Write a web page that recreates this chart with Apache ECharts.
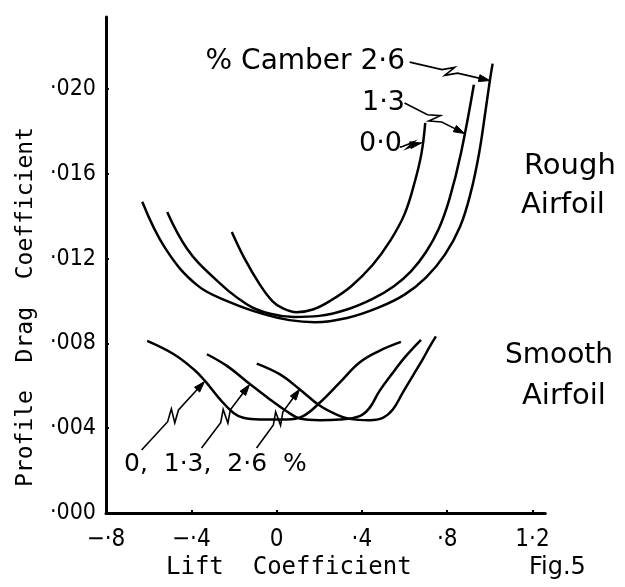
<!DOCTYPE html>
<html>
<head>
<meta charset="utf-8">
<script src="https://cdn.jsdelivr.net/npm/echarts@6/dist/echarts.min.js"></script>
<style>
html,body{margin:0;padding:0;background:#fff;}
#chart{width:625px;height:587px;}
</style>
</head>
<body>
<div id="chart"></div>
<script>
// ---- tick labels ----
const xTickValues = [-0.8, -0.4, 0, 0.4, 0.8, 1.2];
const xTickLabels = ['−·8', '−·4', '0', '·4', '·8', '1·2'];
const yTickValues = [0, 0.004, 0.008, 0.012, 0.016, 0.020];
const yTickLabels = ['·000', '·004', '·008', '·012', '·016', '·020'];

// ---- Rough airfoil: [lift coefficient, profile drag coefficient] ----
const roughCamber00 = [[-0.21,0.01326],[-0.15,0.0120],[-0.08,0.0108],[-0.02,0.0100],[0.03,0.00965],[0.093,0.00947],[0.17,0.0096],[0.25,0.0100],[0.35,0.0107],[0.45,0.0117],[0.53,0.0128],[0.6,0.0141],[0.65,0.0157],[0.68,0.0170],[0.697,0.0184]];
const roughCamber13 = [[-0.513,0.0142],[-0.42,0.01247],[-0.3,0.01115],[-0.14,0.00985],[-0.03,0.0094],[0.08,0.00925],[0.2,0.0093],[0.33,0.0096],[0.45,0.0101],[0.55,0.0107],[0.63,0.0114],[0.70,0.0123],[0.76,0.0134],[0.81,0.0148],[0.865,0.0170],[0.925,0.0202]];
const roughCamber26 = [[-0.63,0.01468],[-0.521,0.01247],[-0.373,0.01075],[-0.22,0.00995],[-0.061,0.00938],[0.06,0.0091],[0.18,0.0090],[0.33,0.0092],[0.48,0.0097],[0.6,0.0103],[0.7,0.0111],[0.79,0.0122],[0.86,0.0135],[0.91,0.0151],[0.95,0.0170],[0.98,0.0190],[1.0,0.0204],[1.013,0.0212]];

// ---- Smooth airfoil ----
const smoothCamber00 = [[-0.607,0.00812],[-0.482,0.00749],[-0.389,0.00678],[-0.335,0.00622],[-0.265,0.00536],[-0.202,0.00472],[-0.156,0.00449],[-0.078,0.00441],[0.047,0.00441],[0.124,0.00457],[0.202,0.0052],[0.296,0.00615],[0.389,0.0071],[0.482,0.00765],[0.583,0.00807]];
const smoothCamber13 = [[-0.327,0.00749],[-0.233,0.00694],[-0.124,0.00607],[-0.031,0.00536],[0.047,0.0048],[0.109,0.00446],[0.202,0.00438],[0.296,0.00441],[0.389,0.00457],[0.436,0.00496],[0.482,0.00575],[0.545,0.00662],[0.607,0.00741],[0.677,0.00817]];
const smoothCamber26 = [[-0.093,0.00705],[0.016,0.00654],[0.109,0.00583],[0.202,0.00507],[0.28,0.00465],[0.342,0.00444],[0.436,0.00438],[0.498,0.00449],[0.545,0.00488],[0.591,0.00567],[0.638,0.00646],[0.685,0.00725],[0.716,0.00781],[0.747,0.00833]];

// ---- annotation arrows (tail, tip) in data units ----
const arrowCamber26 = [[0.624,0.02127],[1.0,0.0204]];
const arrowCamber13 = [[0.600,0.01934],[0.882,0.0179]];
const arrowCamber00 = [[0.577,0.01726],[0.678,0.01745]];
const arrowSmooth00 = [[-0.633,0.00297],[-0.338,0.00620]];
const arrowSmooth13 = [[-0.352,0.00307],[-0.127,0.00606]];
const arrowSmooth26 = [[-0.094,0.00307],[0.108,0.00584]];

const INK = '#000';
const tickFont = "'DejaVu Sans Condensed','DejaVu Sans',sans-serif";
const textFont = "'DejaVu Sans',sans-serif";
const monoFont = "'DejaVu Sans Mono',monospace";

function lookup(values, labels, v) {
  for (let i = 0; i < values.length; i++) if (Math.abs(values[i] - v) < 1e-9) return labels[i];
  return '';
}

function curve(name, data) {
  return {
    name: name, type: 'line', data: data, symbol: 'none', showSymbol: false,
    smooth: 0.4, silent: true,
    lineStyle: { color: INK, width: 2.5 }
  };
}

const chart = echarts.init(document.getElementById('chart'), null, { renderer: 'canvas' });
chart.setOption({
  animation: false,
  backgroundColor: '#fff',
  grid: { left: 106, top: 17, width: 439.3, height: 496, containLabel: false },
  xAxis: {
    type: 'value', min: -0.8, max: 1.26, interval: 0.4,
    axisLine: { onZero: false, lineStyle: { color: INK, width: 3 } },
    axisTick: { inside: true, length: 3, customValues: xTickValues, lineStyle: { color: INK, width: 2 } },
    axisLabel: { customValues: xTickValues, formatter: v => lookup(xTickValues, xTickLabels, v),
      margin: 15, fontSize: 24, color: INK, fontFamily: tickFont },
    splitLine: { show: false }
  },
  yAxis: {
    type: 'value', min: 0, max: 0.0234, interval: 0.004,
    axisLine: { onZero: false, lineStyle: { color: INK, width: 3 } },
    axisTick: { inside: true, length: 3, customValues: yTickValues, lineStyle: { color: INK, width: 2 } },
    axisLabel: { customValues: yTickValues, formatter: v => lookup(yTickValues, yTickLabels, v),
      margin: 10, fontSize: 23, color: INK, fontFamily: tickFont },
    splitLine: { show: false }
  },
  series: [
    curve('Rough 0.0', roughCamber00),
    curve('Rough 1.3', roughCamber13),
    curve('Rough 2.6', roughCamber26),
    curve('Smooth 0', smoothCamber00),
    curve('Smooth 1.3', smoothCamber13),
    curve('Smooth 2.6', smoothCamber26)
  ]
});

function px(p) { return chart.convertToPixel({ gridIndex: 0 }, p); }

function arrow(pair, amp) {
  const A = px(pair[0]), B = px(pair[1]);
  const dx = B[0] - A[0], dy = B[1] - A[1];
  const L = Math.hypot(dx, dy);
  const u = [dx / L, dy / L], n = [-u[1], u[0]];
  const P = t => [A[0] + u[0] * L * t, A[1] + u[1] * L * t];
  const off = (p, k) => [p[0] + n[0] * k, p[1] + n[1] * k];
  const head = 11, hw = 3.5;
  const end = [B[0] - u[0] * head * 0.8, B[1] - u[1] * head * 0.8];
  const d = 4 / L;
  const pts = [A, P(0.5 - 2 * d), off(P(0.5 + d), -amp), off(P(0.5 - d), amp), P(0.5 + 2 * d), end];
  const base = [B[0] - u[0] * head, B[1] - u[1] * head];
  return [
    { type: 'polyline', silent: true, shape: { points: pts }, style: { stroke: INK, lineWidth: 1.6, fill: null } },
    { type: 'polygon', silent: true, shape: { points: [B, off(base, hw), off(base, -hw)] }, style: { fill: INK, stroke: INK, lineWidth: 1 } }
  ];
}

function txt(text, x, y, size, family, align, rotation) {
  return { type: 'text', x: x, y: y, rotation: rotation || 0, silent: true,
    style: { text: text, fontSize: size, fontFamily: family, fill: INK, align: align || 'left', verticalAlign: 'middle' } };
}

const g = [];
arrow(arrowCamber26, 5).forEach(e => g.push(e));
arrow(arrowCamber13, 5).forEach(e => g.push(e));
arrow(arrowCamber00, 2.5).forEach(e => g.push(e));
arrow(arrowSmooth00, 6).forEach(e => g.push(e));
arrow(arrowSmooth13, 6).forEach(e => g.push(e));
arrow(arrowSmooth26, 6).forEach(e => g.push(e));

g.push(txt('% Camber 2·6', 405, 62, 28, textFont, 'right'));
g.push(txt('1·3', 405, 103, 27, textFont, 'right'));
g.push(txt('0·0', 402, 144, 27, textFont, 'right'));
g.push(txt('Rough', 524, 166, 29, textFont, 'left'));
g.push(txt('Airfoil', 521, 205, 29, textFont, 'left'));
g.push(txt('Smooth', 505, 356, 28, textFont, 'left'));
g.push(txt('Airfoil', 522, 396, 29, textFont, 'left'));
g.push(txt('0,  1·3,  2·6  %', 124, 464, 25, textFont, 'left'));
g.push(txt('Profile  Drag  Coefficient', 26, 307, 23, monoFont, 'center', Math.PI / 2));
g.push(txt('Lift  Coefficient', 166, 568, 24, monoFont, 'left'));
g.push(txt('Fig.5', 529, 568, 24, textFont, 'left'));

chart.setOption({ graphic: { elements: g } });
</script>
</body>
</html>
